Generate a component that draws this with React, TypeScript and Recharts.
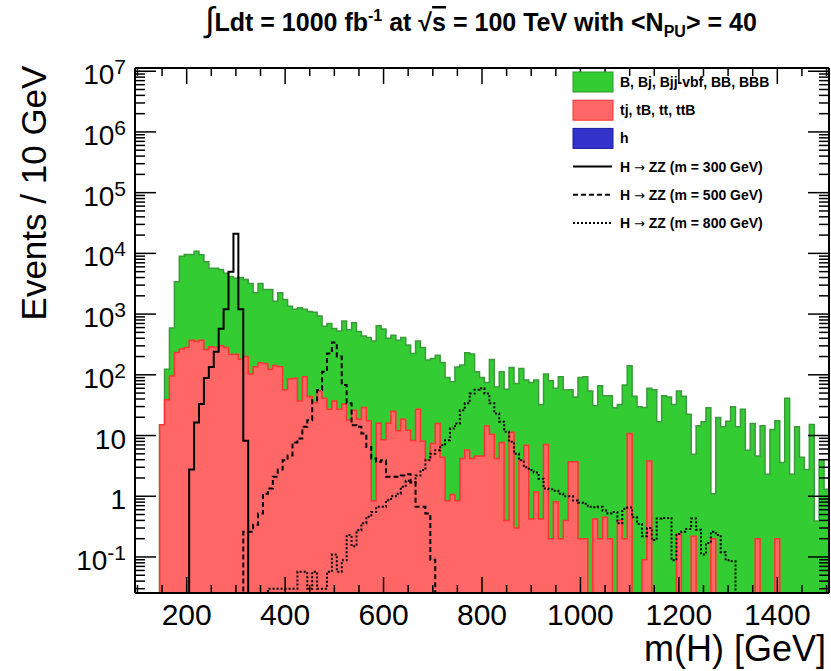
import React from "react";
import { ComposedChart, Area, Line, XAxis, YAxis } from "recharts";

const FONT = '"Liberation Sans", Arial, Helvetica, sans-serif';

// axis ranges (10 GeV bins centred on 100 ... 1500 GeV)
const X_MIN = 95;
const X_MAX = 1505;
const BIN_WIDTH = 10;
const N_BINS = 141;
const Y_MIN = 0.0255;
const Y_MAX = 1.13e7;
const FLOOR = 1e-4; // empty bins are pushed below the log axis

const binEdges = Array.from({ length: N_BINS }, (_, i) => X_MIN + i * BIN_WIDTH);

// top of the background stack (green drawn on top of red), one value per bin
const bkgTotal = [
  0, 0, 0, 0, 0, 15, 123, 590, 3400, 9000,
  9600, 9600, 10800, 9500, 7300, 5700, 5700, 5450, 4700, 4150,
  3900, 4000, 3700, 3200, 2250, 3200, 2550, 2550, 1630, 2250,
  1740, 1350, 1200, 1270, 1200, 1100, 1070, 930, 630, 700,
  580, 525, 770, 550, 720, 515, 435, 410, 360, 645,
  570, 400, 450, 370, 410, 310, 225, 360, 282, 175,
  185, 210, 160, 90, 77, 135, 145, 230, 220, 112,
  90, 75, 179, 63, 112, 58, 132, 72, 127, 82,
  75, 82, 32, 103, 80, 60, 93, 56, 57, 43,
  90, 93, 54, 31, 66, 45, 45, 28.6, 32.4, 68,
  141, 44.5, 29.7, 29, 60, 57, 16.8, 45, 43, 32.4,
  54, 44.5, 22.4, 4.9, 14.5, 16.8, 28.6, 1.1, 19.8, 13.9,
  17.2, 29.7, 13.9, 27.2, 5.7, 15.8, 4.6, 14.5, 2.3, 12.6,
  17.5, 3.6, 41, 2.3, 13.9, 4.4, 2.76, 15.2, 0.39, 4.0,
  1.3,
];

// tj, tB, tt, ttB
const ttbar = [
  0, 0, 0, 0, 0, 15, 39, 96, 233, 265,
  282, 370, 355, 370, 262, 290, 282, 300, 282, 218,
  218, 180, 200, 103, 136, 158, 154, 123, 142, 136,
  57, 85, 88, 37, 93, 44, 35, 54, 41, 27,
  37, 27, 33, 18, 26, 18.6, 29, 17.5, 0.84, 16,
  8.5, 16, 25, 12, 18.6, 12.2, 8.3, 27, 8.1, 3.9,
  7.4, 15.8, 4.4, 0.84, 1.07, 0.84, 4.2, 5.8, 4.2, 4.6,
  4.6, 14.3, 10.5, 4.2, 7.7, 0.4, 11.3, 0.3, 3.9, 6.9,
  0.42, 1.18, 0.42, 7.1, 0.2, 0.81, 0.2, 0.4, 3.7, 3.7,
  0.2, 0.2, 0, 0.42, 0.2, 0.45, 0.2, 0, 0.4, 0.2,
  10.8, 0, 0, 0.09, 3.8, 0, 0, 0, 0, 0,
  0.24, 0, 0, 0.22, 0, 0, 0, 0.2, 0, 0,
  0, 0, 0, 0, 0, 0, 0.2, 0, 0, 0,
  0.2, 0, 0, 0, 0, 0, 0, 0, 0, 0,
  0,
];

// SM h, barely above the axis floor
const hFrom = 210;
const hSM = [0.026, 0.026, 0.026, 0.026, 0.026, 0.026, 0.026];

// signal shapes, first value is the bin centred on *From
const sig300From = 210;
const sig300 = [2.76, 16.4, 33, 89, 135, 240, 575, 1200, 5000, 21000, 1200, 8.2];

const sig500From = 320;
const sig500 = [
  0.26, 0.26, 0.34, 0.52, 1.1, 1.34, 2.1, 2.75, 3.9, 4.7,
  7.7, 8.9, 13.9, 17.9, 38, 56, 112, 225, 340, 200,
  68, 34, 14.8, 13.9, 10.8, 6.5, 4.2, 3.7, 3.9, 2.1,
  2.1, 2.1, 2.2, 2.3, 1.68, 0.67, 0.67, 0.52, 0.09,
];

const sig800From = 370;
const sig800 = [
  0.03, 0.03, 0.03, 0.03, 0.03, 0.03, 0.057, 0.057, 0.03, 0.057,
  0.03, 0.03, 0.057, 0.11, 0.057, 0.088, 0.23, 0.15, 0.275, 0.36,
  0.46, 0.55, 0.67, 0.67, 0.86, 1.0, 1.1, 1.43, 1.8, 1.7,
  2.2, 2.7, 3.9, 5.0, 5.7, 6.9, 8.4, 13, 15.8, 26,
  34, 49, 57, 60, 49, 34, 23, 16.8, 11.5, 7.9,
  5.0, 3.9, 3.0, 2.7, 2.46, 1.95, 1.34, 1.3, 1.23, 1.1,
  1.0, 1.0, 0.85, 0.78, 0.75, 0.67, 0.66, 0.67, 0.58, 0.52,
  0.55, 0.36, 0.62, 0.65, 0.45, 0.35, 0.22, 0.3, 0.19, 0.43,
  0.44, 0.44, 0.088, 0.24, 0.26, 0.29, 0.43, 0.28, 0.11, 0.17,
  0.26, 0.23, 0.12, 0.088, 0.085,
];

// axis ticks
const xTickValues = Array.from({ length: 29 }, (_, i) => 100 + 50 * i);
const xLabelValues = [200, 400, 600, 800, 1000, 1200, 1400];
const yDecades = [-2, -1, 0, 1, 2, 3, 4, 5, 6, 7];
const yMultipliers = [1, 2, 3, 4, 5, 6, 7, 8, 9];
const yTickValues = yDecades
  .flatMap((d) => yMultipliers.map((m) => m * Math.pow(10, d)))
  .filter((v) => v >= Y_MIN && v <= Y_MAX);
const yTickLabels: Record<number, { base: string; sup?: string }> = {
  [-1]: { base: "10", sup: "-1" },
  0: { base: "1" },
  1: { base: "10" },
  2: { base: "10", sup: "2" },
  3: { base: "10", sup: "3" },
  4: { base: "10", sup: "4" },
  5: { base: "10", sup: "5" },
  6: { base: "10", sup: "6" },
  7: { base: "10", sup: "7" },
};

const legendItems = [
  { label: "B, Bj, Bjj-vbf, BB, BBB", kind: "box", fill: "#33cc33", stroke: "#2a9a2a" },
  { label: "tj, tB, tt, ttB", kind: "box", fill: "#ff6666", stroke: "#ff3333" },
  { label: "h", kind: "box", fill: "#3333cc", stroke: "#1a1a99" },
  { label: "H \u2192 ZZ (m = 300 GeV)", kind: "line", dash: undefined },
  { label: "H \u2192 ZZ (m = 500 GeV)", kind: "line", dash: "5 3" },
  { label: "H \u2192 ZZ (m = 800 GeV)", kind: "line", dash: "2 2" },
];

function lift(v: number | undefined) {
  return v && v > 0 ? v : FLOOR;
}

function pick(values: number[], fromCenter: number, i: number) {
  const k = i - (fromCenter - (X_MIN + BIN_WIDTH / 2)) / BIN_WIDTH;
  return values[k];
}

const rows = binEdges.map((x, i) => ({
  x,
  bkg: lift(bkgTotal[i]),
  tt: lift(ttbar[i]),
  h: lift(pick(hSM, hFrom, i)),
  s300: lift(pick(sig300, sig300From, i)),
  s500: lift(pick(sig500, sig500From, i)),
  s800: lift(pick(sig800, sig800From, i)),
}));
// closing point so the last bin gets its full width
rows.push({ ...rows[rows.length - 1], x: X_MAX });

const isDecade = (v: number) => Math.abs(Math.log10(v) - Math.round(Math.log10(v))) < 1e-9;

function BottomTick(props: any) {
  const { x, y, payload } = props;
  const v = payload.value;
  const major = v % 200 === 0;
  return (
    <g>
      <line x1={x} x2={x} y1={y} y2={y - (major ? 16 : 8)} stroke="#000" strokeWidth={1.5} />
      {xLabelValues.includes(v) && (
        <text x={x} y={y + 32} textAnchor="middle" fontSize={30} fontFamily={FONT} fill="#000">
          {v}
        </text>
      )}
    </g>
  );
}

function TopTick(props: any) {
  const { x, y, payload } = props;
  const major = payload.value % 200 === 0;
  return <line x1={x} x2={x} y1={y} y2={y + (major ? 16 : 8)} stroke="#000" strokeWidth={1.5} />;
}

function LeftTick(props: any) {
  const { x, y, payload } = props;
  const v = payload.value;
  const major = isDecade(v);
  const lab = major ? yTickLabels[Math.round(Math.log10(v))] : undefined;
  return (
    <g>
      <line x1={x} x2={x + (major ? 21 : 10)} y1={y} y2={y} stroke="#000" strokeWidth={1.5} />
      {lab && (
        <text x={x - 9} y={y + 13} textAnchor="end" fontSize={28} fontFamily={FONT} fill="#000">
          {lab.base}
          {lab.sup && (
            <tspan fontSize={21} dy={-10}>
              {lab.sup}
            </tspan>
          )}
        </text>
      )}
    </g>
  );
}

function RightTick(props: any) {
  const { x, y, payload } = props;
  const major = isDecade(payload.value);
  return <line x1={x} x2={x - (major ? 21 : 10)} y1={y} y2={y} stroke="#000" strokeWidth={1.5} />;
}

// draw the arrow with DejaVu, Liberation's arrow glyph is tiny
function LegendLabel({ text }: { text: string }) {
  const parts = text.split("\u2192");
  if (parts.length < 2) return <>{text}</>;
  return (
    <>
      <tspan>{parts[0]}</tspan>
      <tspan fontFamily='"DejaVu Sans", sans-serif' fontWeight="normal" fontSize={13}>
        {"\u2192"}
      </tspan>
      <tspan>{parts[1]}</tspan>
    </>
  );
}

const axisLine = { stroke: "#000", strokeWidth: 2 };

function Overlay() {
  return (
    <svg
      width={831}
      height={671}
      style={{ position: "absolute", left: 0, top: 0, pointerEvents: "none" }}
      fontFamily={FONT}
    >
      {/* title */}
      <text x={481} y={31} textAnchor="middle" fontSize={25} fontWeight="bold" fill="#000">
        <tspan fontSize={34} fontWeight="normal">{"\u222B"}</tspan>
        <tspan>Ldt = 1000 fb</tspan>
        <tspan fontSize={16} dy={-10}>-1</tspan>
        <tspan dy={10}> at </tspan>
        <tspan>{"\u221A"}</tspan>
        <tspan textDecoration="overline">s</tspan>
        <tspan> = 100 TeV with &lt;N</tspan>
        <tspan fontSize={16} dy={6}>PU</tspan>
        <tspan dy={-6}>&gt; = 40</tspan>
      </text>

      {/* axis titles */}
      <text
        x={0}
        y={0}
        transform="translate(46,193) rotate(-90)"
        textAnchor="middle"
        fontSize={35}
        fill="#000"
      >
        Events / 10 GeV
      </text>
      <text x={826} y={661} textAnchor="end" fontSize={36} fill="#000">
        m(H) [GeV]
      </text>

      {/* legend */}
      {legendItems.map((item, i) => {
        const cy = 82 + i * 28.2;
        return (
          <g key={item.label}>
            {item.kind === "box" ? (
              <rect x={573} y={cy - 10} width={40} height={20} fill={item.fill} stroke={item.stroke} strokeWidth={1} />
            ) : (
              <line x1={573} x2={612} y1={cy} y2={cy} stroke="#000" strokeWidth={2} strokeDasharray={item.dash} />
            )}
            <text x={620} y={cy + 5} fontSize={14} fontWeight="bold" fill="#000">
              <LegendLabel text={item.label} />
            </text>
          </g>
        );
      })}
    </svg>
  );
}

export default function App() {
  return (
    <div style={{ position: "absolute", left: 0, top: 0, width: 831, height: 671, background: "#fff" }}>
      <ComposedChart
        width={831}
        height={671}
        data={rows}
        margin={{ top: 67, right: 1, bottom: 77, left: 134 }}
      >
        <XAxis
          dataKey="x"
          type="number"
          domain={[X_MIN, X_MAX]}
          ticks={xTickValues}
          interval={0}
          height={1}
          tickSize={0}
          tickMargin={0}
          tickLine={false}
          axisLine={axisLine}
          tick={<BottomTick />}
          allowDataOverflow
        />
        <XAxis
          xAxisId="top"
          orientation="top"
          dataKey="x"
          type="number"
          domain={[X_MIN, X_MAX]}
          ticks={xTickValues}
          interval={0}
          height={1}
          tickSize={0}
          tickMargin={0}
          tickLine={false}
          axisLine={axisLine}
          tick={<TopTick />}
          allowDataOverflow
        />
        <YAxis
          type="number"
          scale="log"
          domain={[Y_MIN, Y_MAX]}
          ticks={yTickValues}
          interval={0}
          width={1}
          tickSize={0}
          tickMargin={0}
          tickLine={false}
          axisLine={axisLine}
          tick={<LeftTick />}
          allowDataOverflow
        />
        <YAxis
          yAxisId="right"
          orientation="right"
          type="number"
          scale="log"
          domain={[Y_MIN, Y_MAX]}
          ticks={yTickValues}
          interval={0}
          width={1}
          tickSize={0}
          tickMargin={0}
          tickLine={false}
          axisLine={axisLine}
          tick={<RightTick />}
          allowDataOverflow
        />

        <Area
          dataKey="bkg"
          type="stepAfter"
          baseValue="dataMin"
          fill="#33cc33"
          fillOpacity={1}
          stroke="#3a9b3a"
          strokeWidth={1.5}
          isAnimationActive={false}
        />
        <Area
          dataKey="tt"
          type="stepAfter"
          baseValue="dataMin"
          fill="#ff6666"
          fillOpacity={1}
          stroke="#ff3333"
          strokeWidth={1.5}
          isAnimationActive={false}
        />
        <Area
          dataKey="h"
          type="stepAfter"
          baseValue="dataMin"
          fill="#3333cc"
          fillOpacity={1}
          stroke="none"
          isAnimationActive={false}
        />
        <Line dataKey="s300" type="stepAfter" stroke="#000" strokeWidth={2} dot={false} isAnimationActive={false} />
        <Line
          dataKey="s500"
          type="stepAfter"
          stroke="#000"
          strokeWidth={2}
          strokeDasharray="5 3"
          dot={false}
          isAnimationActive={false}
        />
        <Line
          dataKey="s800"
          type="stepAfter"
          stroke="#000"
          strokeWidth={2}
          strokeDasharray="2 2"
          dot={false}
          isAnimationActive={false}
        />
      </ComposedChart>
      <Overlay />
    </div>
  );
}
